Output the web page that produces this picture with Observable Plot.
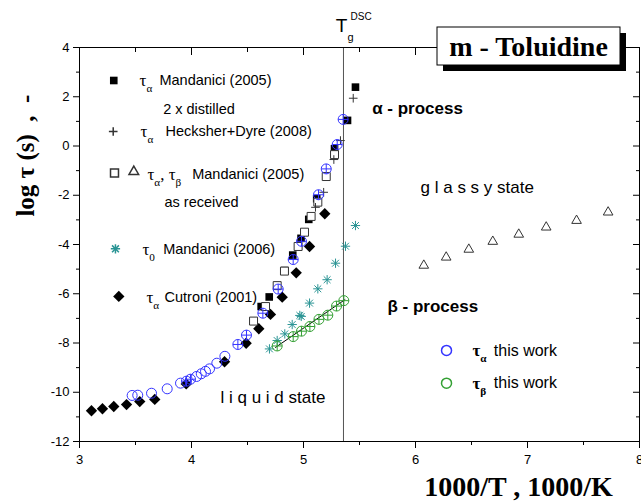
<!DOCTYPE html>
<html><head><meta charset="utf-8">
<script src="https://cdn.jsdelivr.net/npm/d3@7"></script>
<script src="https://cdn.jsdelivr.net/npm/@observablehq/plot@0.6"></script>
<style>body{margin:0;background:#fff;} #chart{position:relative;width:641px;height:502px;}</style>
</head><body><div id="chart"></div>
<script>
// ---- axis ticks ----
const majorX = [3, 4, 5, 6, 7, 8];
const minorX = [3.5, 4.5, 5.5, 6.5, 7.5];
const majorY = [-12, -10, -8, -6, -4, -2, 0, 2, 4];
const minorY = [-11, -9, -7, -5, -3, -1, 1, 3];
const tgDSC = 5.357;

// ---- data: [1000/T, log tau] ----
const mandaniciDistilled = [[4.622,-6.52],[4.694,-6.13],[4.833,-5.06],[4.904,-4.43],[4.978,-3.75],[5.047,-2.98],[5.118,-2.14],[5.277,-0.11],[5.393,1.04],[5.464,2.39]];
const hecksherDyre = [[5.107,-2.49],[5.18,-1.88],[5.271,-0.55],[5.33,0.22],[5.444,1.94]];
const mandaniciReceivedAlpha = [[4.554,-7.11],[4.661,-6.52],[4.765,-5.67],[4.83,-5.08],[4.952,-4.08],[5.009,-3.50],[5.068,-2.86],[5.128,-2.28],[5.203,-1.24],[5.277,-0.35]];
const mandaniciReceivedBeta = [[6.074,-4.85],[6.274,-4.52],[6.476,-4.20],[6.69,-3.88],[6.922,-3.59],[7.167,-3.30],[7.438,-3.03],[7.72,-2.69]];
const mandanici2006Tau0 = [[4.696,-8.24],[4.765,-7.90],[4.833,-7.63],[4.899,-7.25],[4.967,-6.88],[4.98,-6.92],[5.054,-6.38],[5.128,-5.80],[5.211,-5.43],[5.286,-4.76],[5.375,-4.07],[5.464,-3.23]];
const cutroni = [[3.107,-10.75],[3.205,-10.67],[3.306,-10.58],[3.42,-10.50],[3.538,-10.38],[3.672,-10.29],[3.953,-9.66],[4.295,-8.76],[4.488,-8.01],[4.601,-7.42],[4.705,-6.84],[4.81,-6.14],[4.935,-5.15],[5.054,-4.08],[5.19,-2.75]];
const thisWorkAlpha = [[3.47,-10.13],[3.52,-10.12],[3.643,-10.04],[3.783,-9.86],[3.902,-9.63],[3.955,-9.55],[3.991,-9.47],[4.045,-9.36],[4.087,-9.25],[4.125,-9.15],[4.161,-9.05],[4.226,-8.82],[4.298,-8.54],[4.414,-8.06],[4.491,-7.68],[4.637,-6.79],[4.774,-5.81],[4.908,-4.61],[4.982,-3.87],[5.134,-1.98],[5.203,-0.93],[5.301,0.06],[5.354,1.08]];
const thisWorkAlphaCross = [[3.955,-9.55],[3.991,-9.47],[4.414,-8.06],[4.491,-7.68],[4.637,-6.79],[4.774,-5.81],[4.908,-4.61],[4.982,-3.87],[5.134,-1.98],[5.203,-0.93],[5.301,0.06],[5.354,1.08]];
const thisWorkBeta = [[4.765,-8.12],[4.908,-7.74],[4.982,-7.52],[5.057,-7.33],[5.138,-7.04],[5.217,-6.87],[5.295,-6.50],[5.36,-6.28]];
const betaFit = [[4.75,-8.18],[5.37,-6.24]];

// ---- annotations (data coordinates) ----
const legendSymbols = [
  {key:"distilled", x:3.306, y:2.66},
  {key:"hecksher", x:3.301, y:0.59},
  {key:"receivedAlpha", x:3.3125, y:-1.10},
  {key:"receivedBeta", x:3.485, y:-1.04},
  {key:"tau0", x:3.321, y:-4.175},
  {key:"cutroni", x:3.351, y:-6.11},
  {key:"alphaThis", x:6.277, y:-8.30},
  {key:"betaThis", x:6.277, y:-9.63}
];
const legendTau = [
  {x:3.536, y:2.66, text:"τ_[α]"},
  {x:3.545, y:0.59, text:"τ_[α]"},
  {x:3.607, y:-1.157, text:"τ_[α], τ_[β]"},
  {x:3.5625, y:-4.215, text:"τ_[0]"},
  {x:3.598, y:-6.14, text:"τ_[α]"}
];
const legendNames = [
  {x:3.714, y:2.66, text:"Mandanici (2005)"},
  {x:3.747, y:1.48, text:"2 x distilled"},
  {x:3.768, y:0.59, text:"Hecksher+Dyre (2008)"},
  {x:4.006, y:-1.157, text:"Mandanici (2005)"},
  {x:3.759, y:-2.28, text:"as received"},
  {x:3.747, y:-4.215, text:"Mandanici (2006)"},
  {x:3.759, y:-6.14, text:"Cutroni (2001)"}
];
const thisWorkTau = [{x:6.509, y:-8.30, text:"τ_[α]"}, {x:6.509, y:-9.63, text:"τ_[β]"}];
const thisWorkNames = [{x:6.699, y:-8.30, text:"this work"}, {x:6.699, y:-9.63, text:"this work"}];
const processLabels = [{x:5.613, y:1.51, text:"α - process"}, {x:5.75, y:-6.52, text:"β - process"}];
const stateLabels = [{x:6.045, y:-1.67, text:"g l a s s y state"}, {x:4.259, y:-10.20, text:"l i q u i d state"}];
const yLabel = "log τ (s)\u00a0 ,\u00a0 -";
const xLabel = "1000/T , 1000/K";
const title = "m - Toluidine";

const X = d => d[0], Y = d => d[1];
const sans = "Arial, 'Liberation Sans', sans-serif";
const serif = "'Times New Roman', 'Liberation Serif', serif";
const blue = "#3434ff", green = "#34a034", teal = "#2a9494", gray = "#333";
const sym = k => legendSymbols.filter(d => d.key === k);

const plot = Plot.plot({
  width: 641, height: 502,
  marginLeft: 79, marginRight: 2, marginTop: 47, marginBottom: 61,
  x: {domain: [3, 8]},
  y: {domain: [-12, 4]},
  style: {fontFamily: sans, fontSize: "13px", color: "black", background: "white", overflow: "visible"},
  marks: [
    Plot.ruleX([tgDSC], {stroke: "#555", strokeWidth: 1}),
    Plot.frame({stroke: "black"}),
    Plot.axisX({anchor: "bottom", ticks: majorX, tickSize: 7, tickPadding: 6, tickFormat: d => String(d), label: null, fontSize: 13}),
    Plot.axisX({anchor: "bottom", ticks: minorX, tickSize: 4, tickFormat: () => "", label: null}),
    Plot.axisX({anchor: "top", ticks: majorX, tickSize: 7, dy: 7, tickFormat: () => "", label: null}),
    Plot.axisX({anchor: "top", ticks: minorX, tickSize: 4, dy: 4, tickFormat: () => "", label: null}),
    Plot.axisY({anchor: "left", ticks: majorY, tickSize: 6, tickPadding: 4, tickFormat: d => String(d), label: null, fontSize: 13}),
    Plot.axisY({anchor: "left", ticks: minorY, tickSize: 3, tickFormat: () => "", label: null}),
    Plot.axisY({anchor: "right", ticks: majorY, tickSize: 7, dx: -7, tickFormat: () => "", label: null}),
    Plot.axisY({anchor: "right", ticks: minorY, tickSize: 4, dx: -4, tickFormat: () => "", label: null}),

    // data
    Plot.dot(mandaniciReceivedBeta, {x: X, y: Y, symbol: "triangle2", r: 4.6, stroke: gray, fill: "none", strokeWidth: 1}),
    Plot.dot(cutroni, {x: X, y: Y, symbol: "diamond2", r: 5.1, fill: "black"}),
    Plot.dot(mandaniciDistilled, {x: X, y: Y, symbol: "square", r: 4.3, fill: "black"}),
    Plot.dot(mandaniciReceivedAlpha, {x: X, y: Y, symbol: "square", r: 4.5, stroke: gray, fill: "white", strokeWidth: 1}),
    Plot.dot(mandanici2006Tau0, {x: X, y: Y, symbol: "plus", r: 3.1, stroke: teal, strokeWidth: 1}),
    Plot.dot(mandanici2006Tau0, {x: X, y: Y, symbol: "times", r: 3.2, stroke: teal, strokeWidth: 1}),
    Plot.line(betaFit, {x: X, y: Y, stroke: "black", strokeWidth: 1}),
    Plot.dot(thisWorkBeta, {x: X, y: Y, r: 5, stroke: green, fill: "none", strokeWidth: 1}),
    Plot.dot(thisWorkBeta, {x: X, y: Y, symbol: "plus", r: 3.3, stroke: green, strokeWidth: 1}),
    Plot.dot(hecksherDyre, {x: X, y: Y, symbol: "plus", r: 2.9, stroke: gray, strokeWidth: 1}),
    Plot.dot(thisWorkAlpha, {x: X, y: Y, r: 5, stroke: blue, fill: "none", strokeWidth: 1}),
    Plot.dot(thisWorkAlphaCross, {x: X, y: Y, symbol: "plus", r: 3.3, stroke: blue, strokeWidth: 1}),

    // legend symbols
    Plot.dot(sym("distilled"), {x: "x", y: "y", symbol: "square", r: 4.3, fill: "black"}),
    Plot.dot(sym("hecksher"), {x: "x", y: "y", symbol: "plus", r: 2.9, stroke: gray}),
    Plot.dot(sym("receivedAlpha"), {x: "x", y: "y", symbol: "square", r: 4.5, stroke: gray, fill: "white"}),
    Plot.dot(sym("receivedBeta"), {x: "x", y: "y", symbol: "triangle2", r: 4.6, stroke: gray, fill: "none"}),
    Plot.dot(sym("tau0"), {x: "x", y: "y", symbol: "plus", r: 3.1, stroke: teal}),
    Plot.dot(sym("tau0"), {x: "x", y: "y", symbol: "times", r: 3.2, stroke: teal}),
    Plot.dot(sym("cutroni"), {x: "x", y: "y", symbol: "diamond2", r: 5.1, fill: "black"}),
    Plot.dot(sym("alphaThis"), {x: "x", y: "y", r: 5, stroke: blue, fill: "none"}),
    Plot.dot(sym("betaThis"), {x: "x", y: "y", r: 5, stroke: green, fill: "none"}),

    // texts
    Plot.text(legendTau, {x: "x", y: "y", text: "text", textAnchor: "start", lineAnchor: "middle", fontSize: 17, fontFamily: serif, fill: "black"}),
    Plot.text(legendNames, {x: "x", y: "y", text: "text", textAnchor: "start", lineAnchor: "middle", fontSize: 14.5, fontFamily: sans, fill: "black"}),
    Plot.text(thisWorkTau, {x: "x", y: "y", text: "text", textAnchor: "start", lineAnchor: "middle", fontSize: 17, fontWeight: "bold", fontFamily: serif, fill: "black"}),
    Plot.text(thisWorkNames, {x: "x", y: "y", text: "text", textAnchor: "start", lineAnchor: "middle", fontSize: 16, fontFamily: sans, fill: "black"}),
    Plot.text(processLabels, {x: "x", y: "y", text: "text", textAnchor: "start", lineAnchor: "middle", fontSize: 17, fontWeight: "bold", fontFamily: sans, fill: "black"}),
    Plot.text(stateLabels, {x: "x", y: "y", text: "text", textAnchor: "start", lineAnchor: "middle", fontSize: 17, fontFamily: sans, fill: "black"}),
    // T_g^DSC label
    Plot.text(["T"], {x: tgDSC, y: 4.89, text: d => d, textAnchor: "middle", lineAnchor: "middle", dx: -2, fontSize: 19, fontFamily: sans, fill: "black"}),
    Plot.text(["g"], {x: tgDSC, y: 4.40, text: d => d, textAnchor: "middle", lineAnchor: "middle", dx: 7, fontSize: 11, fontFamily: sans, fill: "black"}),
    Plot.text(["DSC"], {x: tgDSC, y: 5.23, text: d => d, textAnchor: "start", lineAnchor: "middle", dx: 7, fontSize: 10, fontFamily: sans, fill: "black"}),
    // axis titles
    Plot.text([yLabel], {x: 3, y: -0.39, text: d => d, dx: -54, rotate: -90, textAnchor: "middle", lineAnchor: "middle", fontSize: 25, fontWeight: "bold", fontFamily: serif, fill: "black"}),
    Plot.text([xLabel], {x: 6.92, y: -12, text: d => d, dy: 46, textAnchor: "middle", lineAnchor: "middle", fontSize: 28, fontWeight: "bold", fontFamily: serif, fill: "black"})
  ]
});

document.getElementById("chart").appendChild(plot);

// rich text: _[..] subscript, ^[..] superscript
d3.select(plot).selectAll("text").each(function() {
  const s = this.textContent;
  if (!/[_^]\[/.test(s)) return;
  const fs = parseFloat(getComputedStyle(this).fontSize) || 14;
  const parts = s.split(/([_^]\[[^\]]*\])/).filter(p => p);
  const sel = d3.select(this);
  sel.text(null);
  let shift = 0;
  parts.forEach(p => {
    const m = p.match(/^([_^])\[([^\]]*)\]$/);
    const target = m ? (m[1] === "_" ? 0.36 * fs : -0.45 * fs) : 0;
    const t = sel.append("tspan").text(m ? m[2] : p);
    if (m) t.attr("font-size", (0.66 * fs) + "px");
    if (target - shift !== 0) t.attr("dy", (target - shift) + "px");
    shift = target;
  });
});

// title box
const svg = d3.select(plot);
const g = svg.append("g");
g.append("rect").attr("x", 443).attr("y", 33).attr("width", 183).attr("height", 38).attr("fill", "black");
g.append("rect").attr("x", 437).attr("y", 27).attr("width", 183).attr("height", 38).attr("fill", "white").attr("stroke", "black").attr("stroke-width", 1);
g.append("text").attr("x", 528.5).attr("y", 46).attr("dy", "0.35em").attr("text-anchor", "middle")
  .attr("font-family", serif).attr("font-weight", "bold").attr("font-size", 28).attr("fill", "black").text(title);
</script></body></html>
